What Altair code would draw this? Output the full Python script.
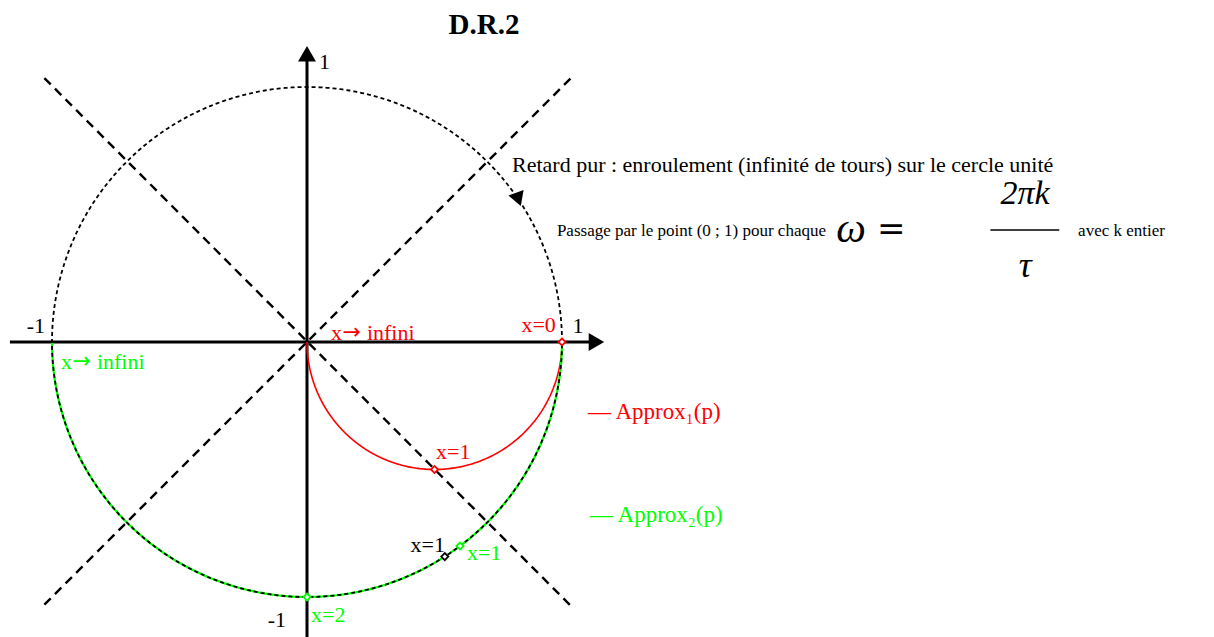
import numpy as np
import pandas as pd
import altair as alt

# Plot frame: unit circle centred at the origin
X_DOMAIN = [-307 / 255, (1214 - 307) / 255]
Y_DOMAIN = [(342 - 637) / 255, 342 / 255]

RED = "#ff0000"
GREEN = "#00ff00"
SERIF = "Liberation Serif"

# Reduced pulsation x = omega * tau
freq = np.concatenate([np.linspace(0, 5, 400), np.geomspace(5.01, 5000, 300)])

# Approx1(p) = 1 / (1 + tau p)
h1 = 1 / (1 + 1j * freq)
# Approx2(p) = (1 - tau p / 2) / (1 + tau p / 2)
h2 = (1 - 0.5j * freq) / (1 + 0.5j * freq)

approx1 = pd.DataFrame({"re": h1.real, "im": h1.imag, "k": np.arange(len(freq))})
approx2 = pd.DataFrame({"re": h2.real, "im": h2.imag, "k": np.arange(len(freq))})

# Pure delay exp(-j x tau): the unit circle
theta = np.linspace(0, 2 * np.pi, 721)
circle = pd.DataFrame({"re": np.cos(theta), "im": np.sin(theta), "k": np.arange(len(theta))})

# Dashed bisectors
diag_a = pd.DataFrame({"re": [-1.03, 1.04], "im": [1.035, -1.04]})
diag_b = pd.DataFrame({"re": [-1.03, 1.04], "im": [-1.03, 1.04]})

# Marked points
marks_red = pd.DataFrame({"re": [1.0, 0.5], "im": [0.0, -0.5]})
marks_green = pd.DataFrame({"re": [0.6, 0.0], "im": [-0.8, -1.0]})
marks_black = pd.DataFrame({"re": [np.cos(1.0)], "im": [-np.sin(1.0)]})

x_sc = alt.Scale(domain=X_DOMAIN, nice=False, zero=False)
y_sc = alt.Scale(domain=Y_DOMAIN, nice=False, zero=False)
X = alt.X("re:Q", scale=x_sc, axis=None)
Y = alt.Y("im:Q", scale=y_sc, axis=None)


def curve(df, color, width, dash=None):
    kw = dict(color=color, strokeWidth=width, clip=True)
    if dash:
        kw["strokeDash"] = dash
    return alt.Chart(df).mark_line(**kw).encode(x=X, y=Y, order="k:Q")


def seg(df, color, width, dash=None):
    kw = dict(color=color, strokeWidth=width)
    if dash:
        kw["strokeDash"] = dash
    return alt.Chart(df).mark_line(**kw).encode(x=X, y=Y)


layers = []
layers.append(seg(diag_a, "black", 2.4, [9, 6]))
layers.append(seg(diag_b, "black", 2.4, [9, 6]))

# Axes
layers.append(seg(pd.DataFrame({"re": [-1.165, 1.12], "im": [0, 0]}), "black", 3))
layers.append(seg(pd.DataFrame({"re": [0, 0], "im": [-1.2, 1.12]}), "black", 3))
heads = pd.DataFrame({"re": [1.135, 0.0], "im": [0.0, 1.13], "shape": ["triangle-right", "triangle-up"]})
layers.append(
    alt.Chart(heads).mark_point(filled=True, color="black", size=320, opacity=1).encode(
        x=X, y=Y, shape=alt.Shape("shape:N", scale=None, legend=None)
    )
)

layers.append(curve(approx1, RED, 1.6))
layers.append(curve(approx2, GREEN, 2.2))
layers.append(curve(circle, "black", 1.8, [4, 3]))

# Direction arrow on the circle (clockwise travel)
ang = np.deg2rad(34)
arrow = pd.DataFrame({"re": [np.cos(ang)], "im": [np.sin(ang)]})
layers.append(
    alt.Chart(arrow).mark_point(shape="triangle-down", filled=True, color="black", size=260, angle=340, opacity=1).encode(x=X, y=Y)
)

for df, col in [(marks_red, RED), (marks_green, GREEN), (marks_black, "black")]:
    layers.append(
        alt.Chart(df).mark_point(shape="diamond", filled=True, fill="white", stroke=col,
                                 strokeWidth=1.8, size=50, opacity=1).encode(x=X, y=Y)
    )

# Fraction bar of omega = 2 pi k / tau
layers.append(seg(pd.DataFrame({"re": [2.68, 2.95], "im": [0.439, 0.439]}), "black", 1.4))

# Text labels
LBL = 22
labels = pd.DataFrame([
    ("1", 0.047, 1.098, "black", "left", LBL, "normal", "normal", SERIF),
    ("-1", -1.063, 0.063, "black", "center", LBL, "normal", "normal", SERIF),
    ("1", 1.063, 0.063, "black", "center", LBL, "normal", "normal", SERIF),
    ("-1", -0.118, -1.090, "black", "center", LBL, "normal", "normal", SERIF),
    ("x", 0.094, 0.035, RED, "left", LBL, "normal", "normal", SERIF),
    ("\u2192", 0.139, 0.038, RED, "left", LBL, "normal", "normal", "DejaVu Sans"),
    ("infini", 0.235, 0.035, RED, "left", LBL, "normal", "normal", SERIF),
    ("x=0", 0.976, 0.067, RED, "right", LBL, "normal", "normal", SERIF),
    ("x", -0.965, -0.078, GREEN, "left", LBL, "normal", "normal", SERIF),
    ("\u2192", -0.920, -0.075, GREEN, "left", LBL, "normal", "normal", "DejaVu Sans"),
    ("infini", -0.824, -0.078, GREEN, "left", LBL, "normal", "normal", SERIF),
    ("x=1", 0.506, -0.431, RED, "left", LBL, "normal", "normal", SERIF),
    ("x=1", 0.541, -0.796, "black", "right", LBL, "normal", "normal", SERIF),
    ("x=1", 0.627, -0.827, GREEN, "left", LBL, "normal", "normal", SERIF),
    ("x=2", 0.016, -1.071, GREEN, "left", LBL, "normal", "normal", SERIF),
    ("\u2014 Approx\u2081(p)", 1.102, -0.275, RED, "left", 23, "normal", "normal", SERIF),
    ("\u2014 Approx\u2082(p)", 1.110, -0.678, GREEN, "left", 23, "normal", "normal", SERIF),
    ("Retard pur : enroulement (infinité de tours) sur le cercle unité", 0.804, 0.694, "black", "left", 22, "normal", "normal", SERIF),
    ("Passage par le point (0 ; 1) pour chaque", 0.980, 0.435, "black", "left", 17, "normal", "normal", SERIF),
    ("\u03c9", 2.075, 0.443, "black", "left", 42, "italic", "normal", SERIF),
    ("=", 2.235, 0.440, "black", "left", 34, "normal", "normal", "DejaVu Sans"),
    ("2\u03c0k", 2.816, 0.580, "black", "center", 34, "italic", "normal", SERIF),
    ("\u03c4", 2.816, 0.300, "black", "center", 36, "italic", "normal", SERIF),
    ("avec k entier", 3.024, 0.435, "black", "left", 17, "normal", "normal", SERIF),
    ("D.R.2", 0.694, 1.243, "black", "center", 29, "normal", "bold", SERIF),
], columns=["txt", "re", "im", "col", "al", "fs", "sty", "wt", "font"])

for (al, fs, sty, wt, fnt), grp in labels.groupby(["al", "fs", "sty", "wt", "font"]):
    layers.append(
        alt.Chart(grp).mark_text(align=al, baseline="middle", fontSize=float(fs), font=fnt,
                                 fontStyle=sty, fontWeight=wt).encode(
            x=X, y=Y, text="txt:N", color=alt.Color("col:N", scale=None, legend=None)
        )
    )

chart = alt.layer(*layers).properties(
    width=1214, height=637, autosize=alt.AutoSizeParams(type="none"), padding=0,
    background="white",
).configure_view(stroke=None)

chart.save("out.html", embed_options={"renderer": "svg", "actions": False})
